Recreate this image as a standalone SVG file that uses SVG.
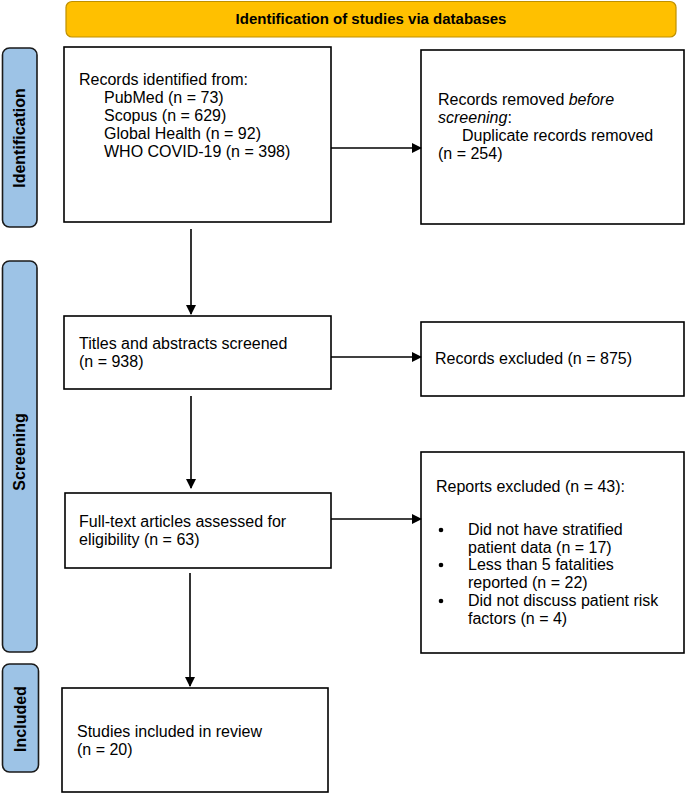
<svg xmlns="http://www.w3.org/2000/svg" width="685" height="793" viewBox="0 0 685 793">
<style>
.box{fill:#fff;stroke:#000;stroke-width:1.6}
.side{fill:#9DC3E6;stroke:#1a1a1a;stroke-width:1.6}
.t{font-family:"Liberation Sans",Arial,sans-serif;font-size:16px;fill:#000}
.sl{font-family:"Liberation Sans",Arial,sans-serif;font-size:16px;font-weight:bold;fill:#000;text-anchor:middle}
.ln{stroke:#000;stroke-width:1.6;fill:none}
</style>
<defs>
<marker id="ah" markerWidth="10" markerHeight="10" refX="9" refY="5" orient="auto" markerUnits="userSpaceOnUse">
<path d="M0,0 L10,5 L0,10 Z" fill="#000"/>
</marker>
</defs>
<g id="banner">
<rect x="66" y="1.5" width="610" height="35.5" rx="6" fill="#FFC000" stroke="#BF9000" stroke-width="1.2"/>
<text x="371" y="24" class="sl" style="font-size:15px">Identification of studies via databases</text>
</g>
<g id="side-identification">
<rect class="side" x="2.5" y="48" width="34.5" height="179" rx="7"/>
<text class="sl" transform="translate(25,138) rotate(-90)">Identification</text>
</g>
<g id="side-screening">
<rect class="side" x="2.5" y="261" width="34.5" height="391" rx="7"/>
<text class="sl" transform="translate(25,452) rotate(-90)">Screening</text>
</g>
<g id="side-included">
<rect class="side" x="2.5" y="664" width="36" height="108" rx="7"/>
<text class="sl" transform="translate(26,719) rotate(-90)">Included</text>
</g>
<g id="records-identified">
<rect class="box" x="64" y="47" width="267" height="175"/>
<text class="t" x="79" y="85">Records identified from:</text>
<text class="t" x="104" y="103">PubMed (n = 73)</text>
<text class="t" x="104" y="121">Scopus (n = 629)</text>
<text class="t" x="104" y="139">Global Health (n = 92)</text>
<text class="t" x="104" y="157">WHO COVID-19 (n = 398)</text>
</g>
<g id="records-removed">
<rect class="box" x="421" y="50" width="263" height="174"/>
<text class="t" x="438" y="105">Records removed <tspan font-style="italic">before</tspan></text>
<text class="t" x="438" y="123"><tspan font-style="italic">screening</tspan>:</text>
<text class="t" x="462" y="141">Duplicate records removed</text>
<text class="t" x="438" y="159">(n = 254)</text>
</g>
<g id="titles-screened">
<rect class="box" x="64" y="316" width="267" height="73"/>
<text class="t" x="79" y="349">Titles and abstracts screened</text>
<text class="t" x="79" y="367">(n = 938)</text>
</g>
<g id="records-excluded">
<rect class="box" x="421" y="322" width="263" height="74"/>
<text class="t" x="435" y="364">Records excluded (n = 875)</text>
</g>
<g id="fulltext-assessed">
<rect class="box" x="65" y="493" width="266" height="75"/>
<text class="t" x="79" y="527">Full-text articles assessed for</text>
<text class="t" x="79" y="545">eligibility (n = 63)</text>
</g>
<g id="reports-excluded">
<rect class="box" x="421" y="452" width="263" height="201"/>
<text class="t" x="436" y="492">Reports excluded (n = 43):</text>
<circle cx="441" cy="530" r="2.3" fill="#000"/>
<circle cx="441" cy="565" r="2.3" fill="#000"/>
<circle cx="441" cy="601" r="2.3" fill="#000"/>
<text class="t" x="468" y="535">Did not have stratified</text>
<text class="t" x="468" y="553">patient data (n = 17)</text>
<text class="t" x="468" y="570">Less than 5 fatalities</text>
<text class="t" x="468" y="588">reported (n = 22)</text>
<text class="t" x="468" y="606">Did not discuss patient risk</text>
<text class="t" x="468" y="624">factors (n = 4)</text>
</g>
<g id="studies-included">
<rect class="box" x="62" y="688" width="266" height="104"/>
<text class="t" x="77" y="737">Studies included in review</text>
<text class="t" x="77" y="755">(n = 20)</text>
</g>
<g id="connectors">
<line class="ln" x1="331" y1="148" x2="421" y2="148" marker-end="url(#ah)"/>
<line class="ln" x1="191" y1="229" x2="191" y2="314" marker-end="url(#ah)"/>
<line class="ln" x1="331" y1="357" x2="421" y2="357" marker-end="url(#ah)"/>
<line class="ln" x1="191" y1="396" x2="191" y2="488" marker-end="url(#ah)"/>
<line class="ln" x1="331" y1="519" x2="421" y2="519" marker-end="url(#ah)"/>
<line class="ln" x1="190" y1="573" x2="190" y2="686" marker-end="url(#ah)"/>
</g>
</svg>
